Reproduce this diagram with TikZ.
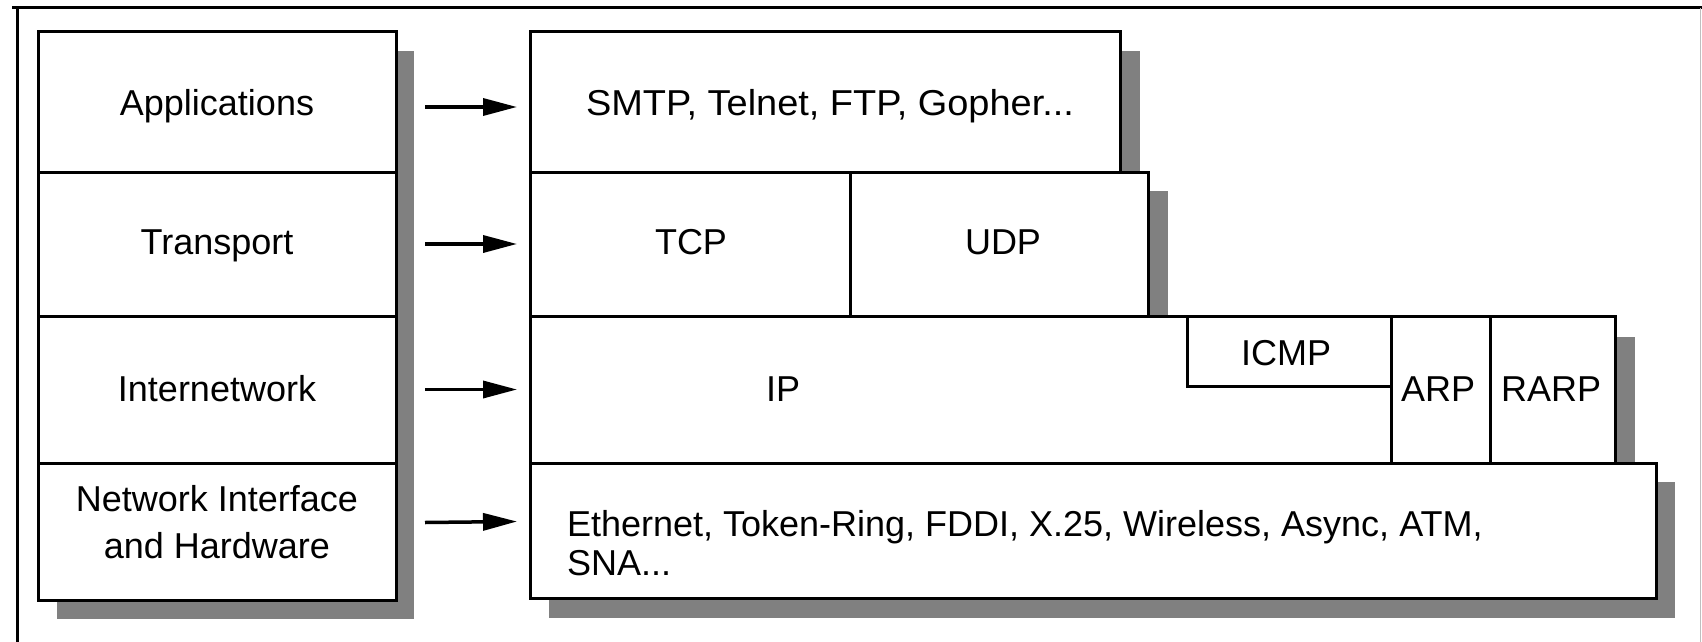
\documentclass[tikz,border=0pt]{standalone}
\usepackage{fontspec}
\setmainfont{Liberation Sans}
\usetikzlibrary{arrows.meta,backgrounds}
\definecolor{shadowgray}{RGB}{128,128,128}
\begin{document}
\begin{tikzpicture}[x=1pt,y=-1pt,
  box/.style={draw=black, line width=3pt, fill=white, inner sep=0pt, outer sep=0pt, anchor=north west},
  shade/.style={fill=shadowgray, draw=none},
  lbl/.style={font=\fontsize{36}{40}\selectfont, inner sep=0pt, outer sep=0pt, text=black},
  arr/.style={line width=3.5pt, -{Triangle[length=34pt,width=17pt]}}]
\useasboundingbox (0,0) rectangle (1702,642);
% frame
\draw[line width=3pt] (12,8) -- (1702,8);
\draw[line width=3pt] (17,8) -- (17,642);
\draw[line width=1pt, black!25] (1700,8) -- (1700,642);
% left stack
\node[box, minimum width=358pt, minimum height=140pt] (lapp) at (38,32) {};
\node[box, minimum width=358pt, minimum height=144pt] (ltra) at (38,172) {};
\node[box, minimum width=358pt, minimum height=147pt] (lint) at (38,316) {};
\node[box, minimum width=358pt, minimum height=137pt] (lnet) at (38,463) {};
% right stack
\node[box, minimum width=590pt, minimum height=140pt] (rapp) at (530,32) {};
\node[box, minimum width=320pt, minimum height=144pt] (rtcp) at (530,172) {};
\node[box, minimum width=298pt, minimum height=144pt] (rudp) at (850,172) {};
\node[box, minimum width=1085pt, minimum height=147pt] (rint) at (530,316) {};
\node[box, minimum width=204pt, minimum height=70pt] (icmp) at (1187,316) {};
\node[box, minimum width=99pt, minimum height=147pt] (arp) at (1391,316) {};
\node[box, minimum width=125pt, minimum height=147pt] (rarp) at (1490,316) {};
\node[box, minimum width=1126pt, minimum height=135pt] (rnet) at (530,463) {};
% shadows
\begin{scope}[on background layer]
\fill[shade] ([shift={(19,19)}]lapp.north west) rectangle ([shift={(18,19)}]lnet.south east);
\fill[shade] ([shift={(19,19)}]rapp.north west) rectangle ([shift={(20,19)}]rapp.south east);
\fill[shade] ([shift={(19,19)}]rtcp.north west) rectangle ([shift={(20,19)}]rudp.south east);
\fill[shade] ([shift={(19,21)}]rint.north west) rectangle ([shift={(20,19)}]rarp.south east);
\fill[shade] ([shift={(19,19)}]rnet.north west) rectangle ([shift={(19,20)}]rnet.south east);
\end{scope}
% labels
\node[lbl, anchor=base] (tapp) at (217,115) {Applications};
\node[lbl, anchor=base] (ttra) at (217,254) {Transport};
\node[lbl, anchor=base] (tint) at (217,401) {Internetwork};
\node[lbl, align=center, font=\fontsize{36}{47}\selectfont] (tnet) at (217,522.5) {Network Interface\\and Hardware};
\node[lbl, anchor=base] (tsmtp) at (830,115) {\scalebox{1.054}[1]{SMTP, Telnet, FTP, Gopher...}};
\node[lbl, anchor=base] (ttcp) at (691,254) {TCP};
\node[lbl, anchor=base] (tudp) at (1003,254) {UDP};
\node[lbl, anchor=base] (tip) at (783,401) {IP};
\node[lbl, anchor=base] (ticmp) at (1286,365) {ICMP};
\node[lbl, anchor=base] (tarp) at (1438,401) {ARP};
\node[lbl, anchor=base] (trarp) at (1551,401) {RARP};
\node[lbl, anchor=west, align=left, font=\fontsize{36}{39.5}\selectfont] (teth) at (567,543) {Ethernet, Token-Ring, FDDI, X.25, Wireless, Async, ATM,\\SNA...};
% arrows
\draw[arr] ([xshift=29pt,yshift=-5pt]lapp.east) -- ([xshift=-13pt,yshift=-5pt]rapp.west);
\draw[arr] ([xshift=29pt]ltra.east) -- ([xshift=-13pt]rtcp.west);
\draw[arr] ([xshift=29pt]lint.east) -- ([xshift=-13pt]rint.west);
\draw[arr] ([xshift=29pt,yshift=9pt]lnet.east) -- ([xshift=-13pt,yshift=9pt]rnet.west);
\end{tikzpicture}
\end{document}
